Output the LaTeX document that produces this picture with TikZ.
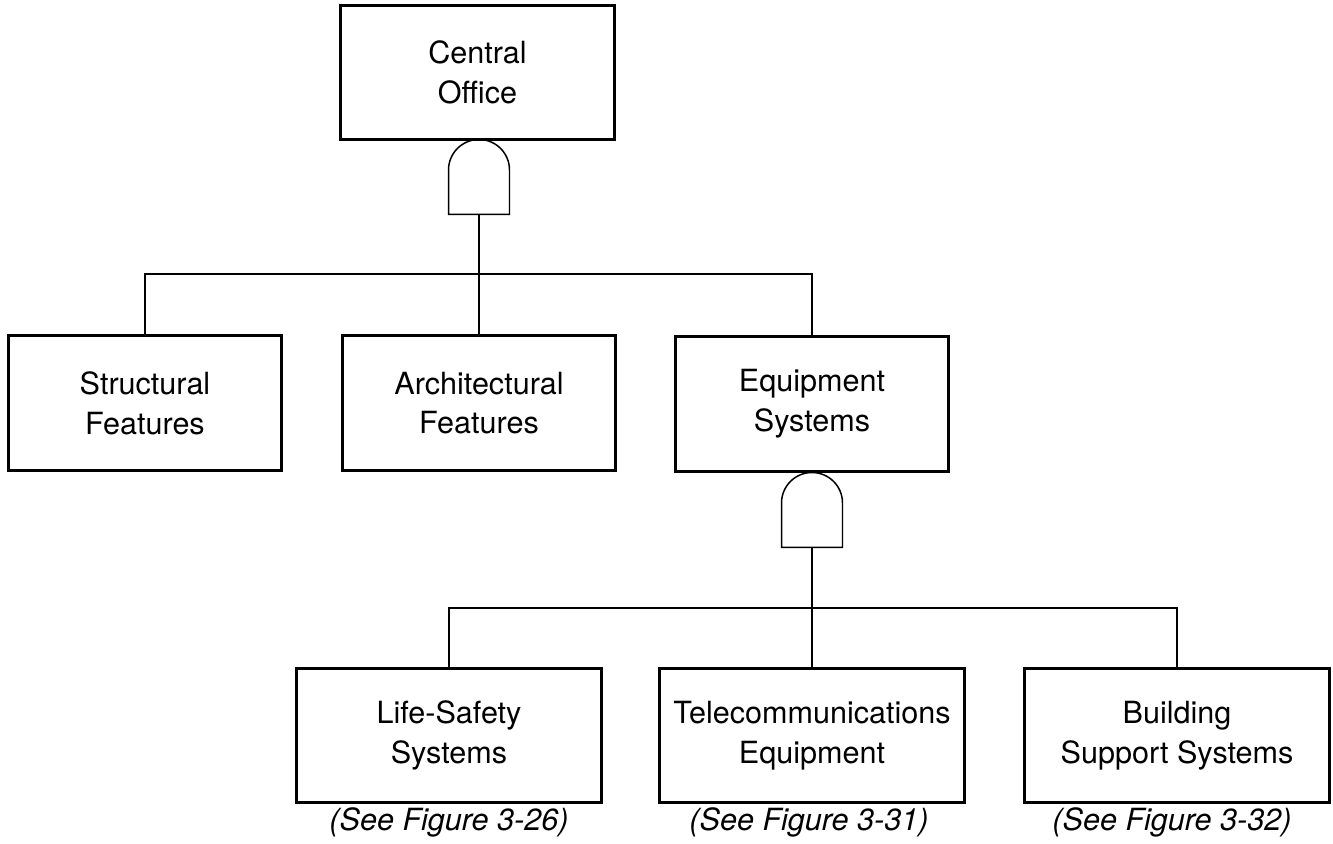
\documentclass[tikz,border=0pt]{standalone}
\usepackage{fontspec}
\setmainfont{TeX Gyre Heros}
\usetikzlibrary{positioning}

\begin{document}
\begin{tikzpicture}[
  x=0.02cm, y=0.02cm,
  box/.style={draw=black, line width=1.7pt, minimum width=5.48cm, minimum height=2.7cm,
    align=center, inner sep=0pt, font=\fontsize{17.4}{22.6}\selectfont},
  wide/.style={box, minimum width=6.1cm},
  gate/.style={minimum width=1.22cm, minimum height=1.5cm, inner sep=0pt, outer sep=0pt},
  wire/.style={line width=0.85pt, black},
  note/.style={anchor=base, inner sep=0pt, font=\fontsize{17.4}{22.6}\selectfont\itshape}
]
  \useasboundingbox (0,0) rectangle (1333,-844);

  \node[box] (office) at (477.5,-72.5) {Central\\Office};
  \node[gate] (topgate) at (479,-177) {};

  \node[box] (struct) at (145,-403) {Structural\\Features};
  \node[box] (arch) at (479,-403) {Architectural\\Features};
  \node[box] (equip) at (812,-404) {Equipment\\Systems};
  \node[gate] (eqgate) at (812,-510) {};

  \node[wide] (life) at (449,-735.5) {Life-Safety\\Systems};
  \node[wide] (telecom) at (812,-735.5) {Telecommunications\\Equipment};
  \node[wide] (build) at (1177,-735.5) {Building\\Support Systems};

  \node[note] (liferef) at (449,-830) {(See Figure 3-26)};
  \node[note] (telref) at (809,-830) {(See Figure 3-31)};
  \node[note] (buildref) at (1172,-830) {(See Figure 3-32)};

  % and-gates
  \foreach \g in {topgate,eqgate}
    \draw[wire] (\g.south west) -- (\g.south east) -- ([yshift=-0.61cm]\g.north east)
      arc[start angle=0, end angle=180, radius=0.61cm] -- cycle;

  \coordinate (busa) at (479,-274);
  \coordinate (busb) at (812,-608);

  \draw[wire] (topgate.south) -- (arch.north);
  \draw[wire] (struct.north) |- (busa) -| (equip.north);
  \draw[wire] (eqgate.south) -- (telecom.north);
  \draw[wire] (life.north) |- (busb) -| (build.north);
\end{tikzpicture}
\end{document}
